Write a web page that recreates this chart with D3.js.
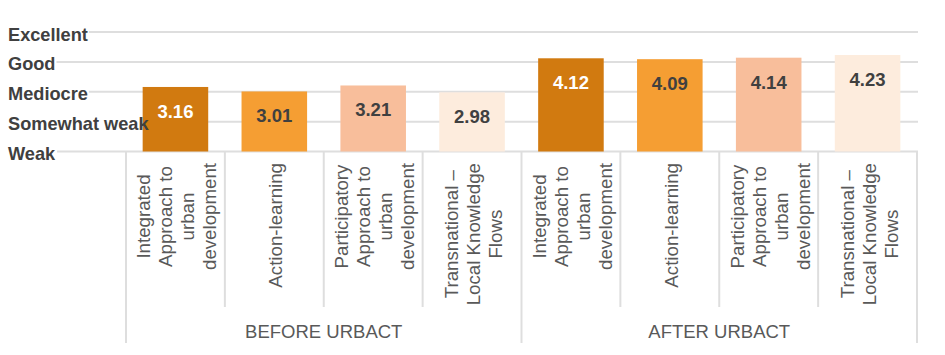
<!DOCTYPE html>
<html><head><meta charset="utf-8">
<script src="https://cdn.jsdelivr.net/npm/d3@7"></script>
<style>body{margin:0;background:#fff}svg{display:block;font-family:"Liberation Sans",Arial,sans-serif}</style>
</head><body><svg id="c" width="945" height="355"></svg>
<script>
const groups = ["BEFORE URBACT", "AFTER URBACT"];
const categories = [
  ["Integrated", "Approach to", "urban", "development"],
  ["Action-learning"],
  ["Participatory", "Approach to", "urban", "development"],
  ["Transnational –", "Local Knowledge", "Flows"]
];
const beforeValues = [3.16, 3.01, 3.21, 2.98];
const afterValues = [4.12, 4.09, 4.14, 4.23];
const tickValues = [1, 2, 3, 4, 5];
const tickLabels = ["Weak", "Somewhat weak", "Mediocre", "Good", "Excellent"];
const barColors = ["#D17A10", "#F59E33", "#F8BE9B", "#FDECDD"];
const labelColors = ["#ffffff", "#404040", "#404040", "#404040"];

const data = [];
groups.forEach((g, gi) => {
  const vals = gi === 0 ? beforeValues : afterValues;
  categories.forEach((c, ci) => data.push({key: gi + "-" + ci, group: gi, cat: ci, lines: c, value: vals[ci]}));
});

const svg = d3.select("#c");
const mLeft = 126, mRight = 917, mBase = 151.5, mTop = 32;
const x = d3.scaleBand().domain(data.map(d => d.key)).range([mLeft, mRight]).paddingInner(0.337).paddingOuter(0.1685);
const y = d3.scaleLinear().domain([1, 5]).range([mBase, mTop]);
const grid = "#DEDEDE";

const gridG = svg.append("g");
const bgG = svg.append("g");
const barsG = svg.append("g");
const ylG = svg.append("g");

// gridlines
gridG.selectAll("line").data(tickValues).join("line")
  .attr("x1", 0).attr("x2", 918).attr("y1", d => y(d)).attr("y2", d => y(d))
  .attr("stroke", grid).attr("stroke-width", 2);

// y labels
const ylText = ylG.selectAll("text").data(tickValues).join("text")
  .attr("x", 8).attr("y", d => y(d) + 8.5)
  .attr("font-size", 18.2).attr("font-weight", "bold").attr("fill", "#404040")
  .text((d, i) => tickLabels[i]);
ylText.each(function() {
  const b = this.getBBox();
  bgG.append("rect").attr("x", 0).attr("y", b.y).attr("width", b.x + b.width + 1).attr("height", b.height).attr("fill", "#fff");
});

// bars
barsG.selectAll("rect").data(data).join("rect")
  .attr("x", d => x(d.key)).attr("width", x.bandwidth())
  .attr("y", d => y(d.value)).attr("height", d => mBase - y(d.value))
  .attr("fill", d => barColors[d.cat]);

// value labels
svg.append("g").selectAll("text").data(data).join("text")
  .attr("x", d => x(d.key) + x.bandwidth() / 2).attr("y", d => y(d.value) + 24.5)
  .attr("dy", "0.35em").attr("text-anchor", "middle")
  .attr("font-size", 18.5).attr("font-weight", "bold")
  .attr("fill", d => labelColors[d.cat])
  .text(d => d.value.toFixed(2));

// separators
const step = x.step();
const seps = d3.range(9).map(i => mLeft + i * step);
svg.append("g").selectAll("line").data(seps).join("line")
  .attr("x1", d => d).attr("x2", d => d)
  .attr("y1", mBase).attr("y2", (d, i) => (i % 4 === 0) ? 343 : 307)
  .attr("stroke", grid).attr("stroke-width", 2);

// category labels
const catG = svg.append("g");
data.forEach(d => {
  const cx = x(d.key) + x.bandwidth() / 2;
  const g = catG.append("g");
  const n = d.lines.length;
  const texts = d.lines.map(ln => g.append("text")
    .attr("font-size", 18.7).attr("fill", "#595959").attr("text-anchor", "middle")
    .attr("dy", "0.35em").text(ln));
  const maxLen = d3.max(texts, t => t.node().getComputedTextLength());
  const yc = 163 + maxLen / 2;
  texts.forEach((t, i) => {
    const xo = cx + 1.5 + (i - (n - 1) / 2) * 22;
    t.attr("transform", `translate(${xo},${yc}) rotate(-90)`);
  });
});

// group labels
svg.append("g").selectAll("text").data(groups).join("text")
  .attr("x", (d, i) => mLeft + (i * 4 + 2) * step).attr("y", 332).attr("dy", "0.35em")
  .attr("text-anchor", "middle").attr("font-size", 18.5).attr("fill", "#595959")
  .text(d => d);
</script></body></html>
